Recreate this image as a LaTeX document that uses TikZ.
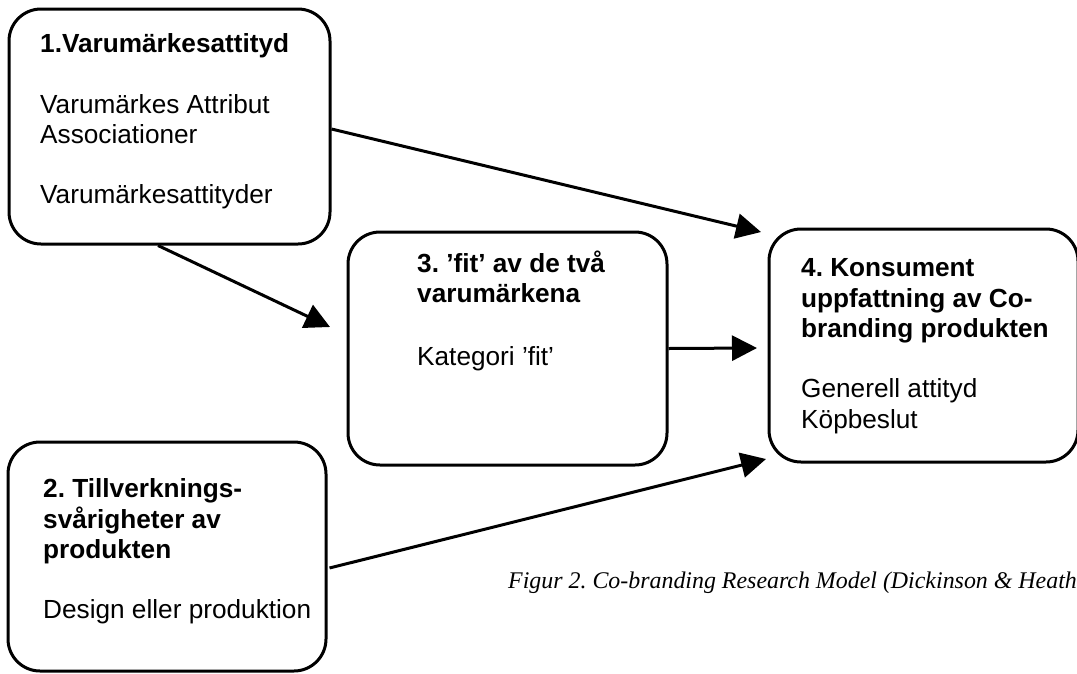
\documentclass[tikz,border=0pt]{standalone}
\usepackage{fontspec}
\setmainfont{Liberation Sans}[Ligatures=CommonOff]
\newfontfamily\capfont{Liberation Serif}
\usetikzlibrary{arrows.meta,calc}
\frenchspacing
\tikzset{
  box/.style={draw, line width=3pt, rounded corners=32pt, inner sep=0pt},
  txt/.style={anchor=base west, inner sep=0pt, font=\frenchspacing\fontsize{26.2}{30.5}\selectfont},
  hd/.style={txt, font=\frenchspacing\fontsize{26.2}{30.5}\selectfont\bfseries},
  arr/.style={line width=3pt, -{Triangle[length=25pt,width=25pt]}}
}
\begin{document}
\begin{tikzpicture}[x=1pt,y=-1pt]
\useasboundingbox (0,0) rectangle (1077,673);
\clip (0,0) rectangle (1077,673);
% boxes
\node[box, minimum width=321pt, minimum height=235pt] (b1) at (169.5,126.5) {};
\node[box, minimum width=318pt, minimum height=229pt] (b2) at (167,556.5) {};
\node[box, minimum width=319pt, minimum height=233pt] (b3) at (507.5,348.5) {};
\node[box, minimum width=309pt, minimum height=233pt] (b4) at (923.5,345.5) {};
% texts box 1
\node[hd]  (t11) at (40,52)  {1.Varumärkesattityd};
\node[txt] (t12) at (40,113) {Varumärkes Attribut};
\node[txt] (t13) at (40,143) {Associationer};
\node[txt] (t14) at (40,203) {Varumärkesattityder};
% texts box 2
\node[hd]  (t21) at (43,497) {2. Tillverknings-};
\node[hd]  (t22) at (43,528) {svårigheter av};
\node[hd]  (t23) at (43,558) {produkten};
\node[txt] (t24) at (43,618) {Design eller produktion};
% texts box 3
\node[hd]  (t31) at (417,272) {3. ’fit’ av de två};
\node[hd]  (t32) at (417,302) {varumärkena};
\node[txt] (t33) at (417,365) {Kategori ’fit’};
% texts box 4
\node[hd]  (t41) at (801,276) {4. Konsument};
\node[hd]  (t42) at (801,307) {uppfattning av Co-};
\node[hd]  (t43) at (801,337) {branding produkten};
\node[txt] (t44) at (801,397) {Generell attityd};
\node[txt] (t45) at (801,428) {Köpbeslut};
% caption
\node[anchor=base west, inner sep=0pt, font=\frenchspacing\capfont\itshape\fontsize{23.9}{28}\selectfont] (cap) at (508,588) {Figur 2. Co-branding Research Model (Dickinson \& Heath};
% arrow tips
\coordinate (e1) at (761,232);
\coordinate (e2) at (330,327);
\coordinate (e3) at (757,348);
\coordinate (e4) at (766,459);
% connectors
\draw[arr] ($(b1.east)+(0,2.5)$) -- (e1);
\draw[arr] ($(b1.south)+(-11.5,0)$) -- (e2);
\draw[arr] (b3.east) -- (e3);
\draw[arr] ($(b2.east)+(2,11.5)$) -- (e4);
\end{tikzpicture}
\end{document}
